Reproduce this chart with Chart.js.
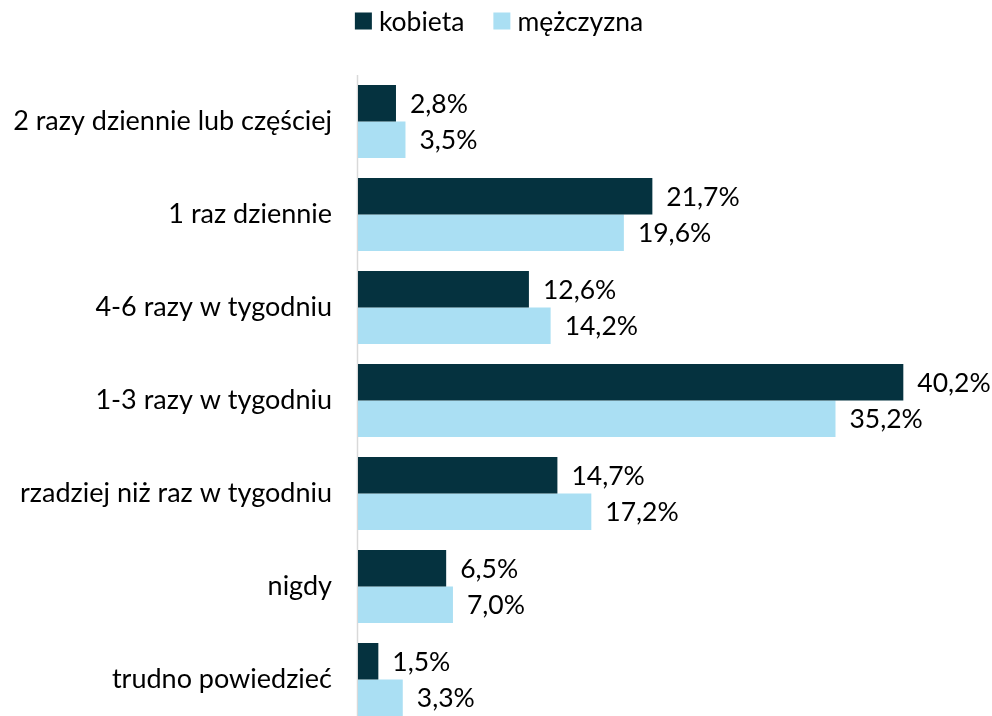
<!DOCTYPE html>
<html>
<head>
<meta charset="utf-8">
<script src="https://cdn.jsdelivr.net/npm/chart.js@4/dist/chart.umd.min.js"></script>
<style>
html,body{margin:0;padding:0;background:#fff;overflow:hidden;}
canvas{display:block;}
</style>
</head>
<body>
<canvas id="c" width="992" height="726"></canvas>
<script>
const categories = ["2 razy dziennie lub częściej","1 raz dziennie","4-6 razy w tygodniu","1-3 razy w tygodniu","rzadziej niż raz w tygodniu","nigdy","trudno powiedzieć"];
const seriesNames = ["kobieta","mężczyzna"];
const kobieta = [2.8,21.7,12.6,40.2,14.7,6.5,1.5];
const mezczyzna = [3.5,19.6,14.2,35.2,17.2,7.0,3.3];
const colors = ['#05323f','#aadff3'];

const FONT = "Lato, 'Open Sans', sans-serif";
const FS = 26.5;

const labelPlugin = {
  id:'vals',
  afterDatasetsDraw(chart){
    const ctx = chart.ctx;
    ctx.save();
    ctx.font = FS + "px " + FONT;
    ctx.fillStyle = "#000";
    ctx.textBaseline = "middle";
    ctx.textAlign = "left";
    chart.data.datasets.forEach((ds,i)=>{
      chart.getDatasetMeta(i).data.forEach((bar,j)=>{
        const t = ds.data[j].toFixed(1).replace('.',',') + '%';
        ctx.fillText(t, bar.x + 14, bar.y + 1);
      });
    });
    ctx.restore();
  }
};

const axisLine = {
  id:'axisLine',
  beforeDatasetsDraw(chart){
    const a = chart.chartArea, ctx = chart.ctx;
    ctx.save();
    ctx.strokeStyle = "#d9d9d9";
    ctx.lineWidth = 1.5;
    ctx.beginPath();
    ctx.moveTo(a.left - 0.5, a.top);
    ctx.lineTo(a.left - 0.5, a.bottom);
    ctx.stroke();
    ctx.restore();
  }
};

const legendPlugin = {
  id:'customLegend',
  afterDraw(chart){
    const ctx = chart.ctx;
    ctx.save();
    ctx.font = FS + "px " + FONT;
    ctx.textBaseline = "middle";
    ctx.textAlign = "left";
    const box = 17, gapBT = 7, gapItems = 29;
    const items = chart.data.datasets.map(d => ({label:d.label, color:d.backgroundColor, w: ctx.measureText(d.label).width}));
    let total = 0;
    items.forEach((it,i)=>{ total += box + gapBT + it.w + (i < items.length-1 ? gapItems : 0); });
    let x = (chart.width - total) / 2 + 3;
    const cy = 21;
    items.forEach(it=>{
      ctx.fillStyle = it.color;
      ctx.fillRect(x, cy - box/2, box, box);
      x += box + gapBT;
      ctx.fillStyle = '#000';
      ctx.fillText(it.label, x, cy + 1);
      x += it.w + gapItems;
    });
    ctx.restore();
  }
};

new Chart(document.getElementById('c'), {
  type:'bar',
  data:{
    labels: categories,
    datasets:[
      {label: seriesNames[0], data: kobieta, backgroundColor:colors[0], categoryPercentage:0.785, barPercentage:1},
      {label: seriesNames[1], data: mezczyzna, backgroundColor:colors[1], categoryPercentage:0.785, barPercentage:1}
    ]
  },
  options:{
    indexAxis:'y',
    responsive:false,
    animation:false,
    layout:{padding:{left:0,right:10,top:75,bottom:0}},
    plugins:{
      legend:{display:false},
      tooltip:{enabled:false}
    },
    scales:{
      x:{
        min:0, max:46,
        display:false,
        grid:{display:false}
      },
      y:{
        grid:{display:false, drawTicks:false},
        border:{display:false},
        ticks:{color:'#000', font:{family:FONT, size:27}, padding:26},
        afterFit(s){ s.width = 358; s.paddingTop = 0; s.paddingBottom = 0; }
      }
    }
  },
  plugins:[labelPlugin, axisLine, legendPlugin]
});
</script>
</body>
</html>
